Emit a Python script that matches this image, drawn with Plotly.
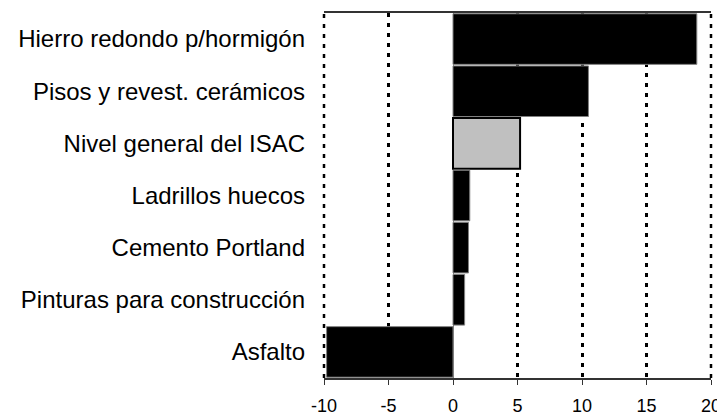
"""ISAC insumos: variación porcentual, barras horizontales."""

import plotly.graph_objects as go

# Data (top to bottom as in the reference)
categories = [
    'Hierro redondo p/hormigón',
    'Pisos y revest. cerámicos',
    'Nivel general del ISAC',
    'Ladrillos huecos',
    'Cemento Portland',
    'Pinturas para construcción',
    'Asfalto',
]
values = [18.9, 10.5, 5.2, 1.3, 1.2, 0.9, -9.8]
highlight = 'Nivel general del ISAC'
x_ticks = [-10, -5, 0, 5, 10, 15, 20]

FONT = 'Liberation Sans, Arial, sans-serif'
GRID_DASH = '4px,6px'

fill = ['#c0c0c0' if c == highlight else 'black' for c in categories]
edge = ['black' if c == highlight else '#808080' for c in categories]
edge_w = [2 if c == highlight else 1 for c in categories]

fig = go.Figure(data=[
    go.Bar(
        x=values,
        y=categories,
        orientation='h',
        marker=dict(color=fill, line=dict(color=edge, width=edge_w)),
        showlegend=False,
    )
])

# page body has an 8px margin, so the figure is a bit smaller than the window
fig.update_layout(
    width=717,
    height=408,
    margin=dict(l=316, r=14, t=5, b=38),
    paper_bgcolor='white',
    plot_bgcolor='white',
    bargap=0.03,
    font=dict(family=FONT, color='black'),
)

fig.update_xaxes(
    range=[x_ticks[0], x_ticks[-1]],
    tickvals=x_ticks,
    ticktext=[str(t) for t in x_ticks],
    tickfont=dict(size=18),
    showgrid=True,
    gridcolor='black',
    gridwidth=2.5,
    griddash=GRID_DASH,
    zeroline=True,
    zerolinecolor='#808080',
    zerolinewidth=1,
    showline=True,
    linecolor='#333333',
    linewidth=1.5,
    mirror=True,
    ticks='outside',
    ticklen=5,
    tickcolor='#333333',
    ticklabelstandoff=6,
    automargin=False,
)

fig.update_yaxes(
    autorange='reversed',
    tickfont=dict(size=24),
    showgrid=False,
    showline=False,
    ticks='',
    ticklabelstandoff=18,
    automargin=False,
)

# plotly drops gridlines sitting on the plot edges, so draw those two by hand
# (paper refs so the line is not clipped to half its width)
for edge_x in (0, 1):
    fig.add_shape(
        type='line', xref='paper', yref='paper',
        x0=edge_x, x1=edge_x, y0=0, y1=1,
        line=dict(color='black', width=2.5, dash=GRID_DASH),
        layer='below',
    )

fig.write_html("out.html")
